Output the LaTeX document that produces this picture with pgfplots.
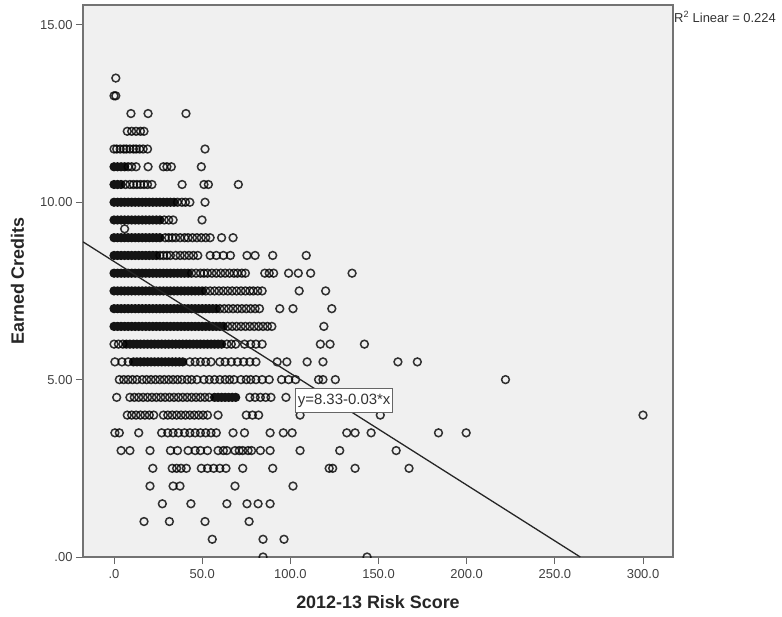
\documentclass[border=0pt]{standalone}
\usepackage{pgfplots}
\pgfplotsset{compat=1.18}
\usepackage{fontspec}
\setmainfont{Liberation Sans}
\definecolor{bg}{HTML}{F0F0F0}
\begin{document}
\begin{tikzpicture}
\path[use as bounding box] (-83bp,-60bp) rectangle (699bp,557bp);
\begin{axis}[
  name=ax, at={(0,0)}, anchor=south west,
  scale only axis, width=590bp, height=552bp,
  xmin=-17.6, xmax=317, ymin=0, ymax=15.56,
  clip marker paths=true,
  axis background/.style={fill=bg},
  axis line style={draw=black!55, line width=1.3bp},
  xtick={0,50,100,150,200,250,300},
  xticklabels={.0,50.0,100.0,150.0,200.0,250.0,300.0},
  ytick={0,5,10,15}, yticklabels={.00,5.00,10.00,15.00},
  tick align=outside, tick pos=left, major tick length=7bp,
  tick style={draw=black!60, line width=1bp},
  /pgf/number format/assume math mode=true,
  ticklabel style={font=\fontsize{13}{15}\selectfont, text=black!75},
  xticklabel style={yshift=-2bp},
  xlabel={2012-13 Risk Score}, ylabel={Earned Credits},
  label style={font=\fontsize{18}{21}\selectfont\bfseries, text=black!85},
  xlabel style={at={(axis description cs:0.5,-0.0815)}, anchor=center},
  ylabel style={at={(axis description cs:-0.111,0.5)}, anchor=center},
]
% dense (heavily overlapping) runs of points
\addplot[only marks, mark=*, mark size=4bp, mark options={draw=black!92, fill=black!92, line width=1.2bp}] coordinates {
(0,11)(2,11)(4,11)(6,11)
(0,10.5)(2,10.5)(4,10.5)
(0,10)(2,10)(4,10)(6,10)(8,10)(10,10)(12,10)(14,10)(16,10)(18,10)(20,10)(22,10)(24,10)(26,10)(28,10)(30,10)(32,10)(34,10)
(0,9.5)(2,9.5)(4,9.5)(6,9.5)(8,9.5)(10,9.5)(12,9.5)(14,9.5)(16,9.5)(18,9.5)(20,9.5)(22,9.5)(24,9.5)(26,9.5)
(0,9)(2,9)(4,9)(6,9)(8,9)(10,9)(12,9)(14,9)(16,9)(18,9)(20,9)(22,9)(24,9)(26,9)
(0,8.5)(2,8.5)(4,8.5)(6,8.5)(8,8.5)(10,8.5)(12,8.5)(14,8.5)(16,8.5)(18,8.5)(20,8.5)(22,8.5)(24,8.5)
(0,8)(2,8)(4,8)(6,8)(8,8)(10,8)(12,8)(14,8)(16,8)(18,8)(20,8)(22,8)(24,8)(26,8)(28,8)(30,8)(32,8)(34,8)(36,8)(38,8)(40,8)(42,8)
(0,7.5)(2,7.5)(4,7.5)(6,7.5)(8,7.5)(10,7.5)(12,7.5)(14,7.5)(16,7.5)(18,7.5)(20,7.5)(22,7.5)(24,7.5)(26,7.5)(28,7.5)(30,7.5)(32,7.5)(34,7.5)(36,7.5)(38,7.5)(40,7.5)(42,7.5)(44,7.5)(46,7.5)(48,7.5)(50,7.5)
(0,7)(2,7)(4,7)(6,7)(8,7)(10,7)(12,7)(14,7)(16,7)(18,7)(20,7)(22,7)(24,7)(26,7)(28,7)(30,7)(32,7)(34,7)(36,7)(38,7)(40,7)(42,7)(44,7)(46,7)(48,7)(50,7)(52,7)(54,7)(56,7)(58,7)
(0,6.5)(2,6.5)(4,6.5)(6,6.5)(8,6.5)(10,6.5)(12,6.5)(14,6.5)(16,6.5)(18,6.5)(20,6.5)(22,6.5)(24,6.5)(26,6.5)(28,6.5)(30,6.5)(32,6.5)(34,6.5)(36,6.5)(38,6.5)(40,6.5)(42,6.5)(44,6.5)(46,6.5)(48,6.5)(50,6.5)(52,6.5)(54,6.5)(56,6.5)(58,6.5)(60,6.5)(62,6.5)
(7,6)(9,6)(11,6)(13,6)(15,6)(17,6)(19,6)(21,6)(23,6)(25,6)(27,6)(29,6)(31,6)(33,6)(35,6)(37,6)(39,6)(41,6)(43,6)(45,6)(47,6)(49,6)(51,6)(53,6)(55,6)(57,6)(59,6)(61,6)
(11,5.5)(13,5.5)(15,5.5)(17,5.5)(19,5.5)(21,5.5)(23,5.5)(25,5.5)(27,5.5)(29,5.5)(31,5.5)(33,5.5)(35,5.5)(37,5.5)(39,5.5)
(57,4.5)(59,4.5)(61,4.5)(63,4.5)(65,4.5)(67,4.5)(69,4.5)
};
% individual points
\addplot[only marks, mark=o, mark size=3.9bp, mark options={draw=black, draw opacity=0.8, line width=1.5bp}] coordinates {
(1,13.5)
(0,13)(1,13)
(9.6,12.5)(19.3,12.5)(40.8,12.5)
(7.5,12)(10,12)(12.5,12)(15,12)(17,12)
(0,11.5)(1.5,11.5)(3.5,11.5)(5.5,11.5)(7,11.5)(9,11.5)(11,11.5)(12.5,11.5)(14.5,11.5)(16.5,11.5)(19,11.5)(51.6,11.5)
(8,11)(10,11)(12.5,11)(19.3,11)(28,11)(30,11)(32.5,11)(49.5,11)
(6.5,10.5)(9,10.5)(11,10.5)(13,10.5)(15,10.5)(17,10.5)(19,10.5)(21.5,10.5)(38.6,10.5)(51,10.5)(53.5,10.5)(70.5,10.5)
(36,10)(38.5,10)(40.5,10)(43,10)(51.6,10)
(28.5,9.5)(31,9.5)(33.5,9.5)(49.9,9.5)
(6,9.25)
(29,9)(31,9)(33,9)(35,9)(37.5,9)(40,9)(42,9)(44.5,9)(47,9)(49.5,9)(52,9)(54.5,9)(61,9)(67.5,9)
(26,8.5)(28,8.5)(30,8.5)(32,8.5)(35,8.5)(37.5,8.5)(40,8.5)(42.5,8.5)(45,8.5)(47.5,8.5)(54.5,8.5)(58,8.5)(62,8.5)(66,8.5)(75.4,8.5)(80,8.5)(90,8.5)(109,8.5)
(44,8)(46.5,8)(49,8)(51,8)(53,8)(55.5,8)(58,8)(60.5,8)(63,8)(65.5,8)(68,8)(70,8)(72.5,8)(74.5,8)(85.5,8)(88,8)(90.5,8)(99,8)(104.5,8)(111.5,8)(135,8)
(52,7.5)(54.5,7.5)(57,7.5)(59.5,7.5)(62,7.5)(64.5,7.5)(67,7.5)(69.5,7.5)(72,7.5)(74.5,7.5)(77,7.5)(79,7.5)(81.5,7.5)(84,7.5)(105,7.5)(120,7.5)
(60,7)(62.5,7)(65,7)(67.5,7)(70,7)(72.5,7)(75,7)(77.5,7)(80,7)(82.5,7)(94,7)(101.5,7)(123.5,7)
(64.5,6.5)(67,6.5)(69.5,6.5)(72,6.5)(74.5,6.5)(77,6.5)(79.5,6.5)(82,6.5)(84.5,6.5)(87,6.5)(89.5,6.5)(119,6.5)
(0,6)(2.5,6)(5,6)(64,6)(66.5,6)(69,6)(74,6)(77.5,6)(80.5,6)(84,6)(117,6)(122.5,6)(142,6)
(0.5,5.5)(4.5,5.5)(8,5.5)(43,5.5)(46,5.5)(49,5.5)(52,5.5)(55,5.5)(60,5.5)(63,5.5)(66.5,5.5)(70,5.5)(73.5,5.5)(77,5.5)(80.5,5.5)(92.5,5.5)(98,5.5)(109.5,5.5)(118.5,5.5)(161,5.5)(172,5.5)
(3,5)(5.5,5)(8,5)(10.5,5)(13,5)(16,5)(18.5,5)(21,5)(23.5,5)(26,5)(28.5,5)(31,5)(33.5,5)(36,5)(38.5,5)(41.5,5)(44,5)(47,5)(51,5)(54,5)(57,5)(60,5)(63,5)(65.5,5)(68,5)(72,5)(75,5)(77.5,5)(80.5,5)(84,5)(88,5)(95,5)(99,5)(103,5)(116,5)(118.5,5)(125.5,5)(222,5)
(1.5,4.5)(9,4.5)(11.5,4.5)(14,4.5)(16.5,4.5)(19,4.5)(21.5,4.5)(24,4.5)(26.5,4.5)(29,4.5)(31.5,4.5)(34,4.5)(36.5,4.5)(39,4.5)(41.5,4.5)(44,4.5)(46.5,4.5)(49,4.5)(51.5,4.5)(54,4.5)(77,4.5)(80,4.5)(83,4.5)(86,4.5)(89,4.5)(97.5,4.5)
(7.5,4)(10,4)(12.5,4)(15,4)(17.5,4)(20,4)(22.5,4)(28,4)(30.5,4)(33,4)(35.5,4)(38,4)(40.5,4)(43,4)(45.5,4)(48,4)(50.5,4)(53,4)(59,4)(75,4)(78.5,4)(82,4)(105.5,4)(151,4)(300,4)
(0.5,3.5)(3,3.5)(14,3.5)(27,3.5)(30.5,3.5)(33.5,3.5)(36.5,3.5)(40,3.5)(43,3.5)(46,3.5)(49,3.5)(52,3.5)(55,3.5)(58,3.5)(67.5,3.5)(74,3.5)(88.5,3.5)(96,3.5)(101,3.5)(132,3.5)(136.7,3.5)(145.8,3.5)(184,3.5)(199.7,3.5)
(4,3)(9,3)(20.4,3)(32,3)(36,3)(42,3)(46,3)(49,3)(53,3)(59,3)(62,3)(64,3)(68.6,3)(71,3)(73,3)(76,3)(78,3)(83,3)(88.5,3)(105.5,3)(128,3)(160,3)
(22,2.5)(33,2.5)(35.5,2.5)(38,2.5)(41,2.5)(49.5,2.5)(53,2.5)(56.5,2.5)(60,2.5)(63.5,2.5)(73,2.5)(90,2.5)(122,2.5)(124,2.5)(136.7,2.5)(167.3,2.5)
(20.4,2)(33.5,2)(37.4,2)(68.6,2)(101.5,2)
(27.4,1.5)(43.6,1.5)(64,1.5)(75.4,1.5)(81.7,1.5)(88.5,1.5)
(17,1)(31.4,1)(51.6,1)(76.6,1)
(55.7,0.5)(84.5,0.5)(96.4,0.5)
(84.5,0)(143.5,0)
};
% fit line y = 8.33 - 0.03*x
\addplot[draw=black!85, line width=1.3bp] coordinates {(-17.6,8.884) (264.4,0)};
\node[draw=black!60, fill=white, line width=1bp, inner xsep=2.5bp, inner ysep=5bp,
      text=black!80, font=\fontsize{15}{17}\selectfont] at (axis cs:130.5,4.41) {y=8.33-0.03*x};
\end{axis}
\node[anchor=west, inner sep=0pt, text=black!80, font=\fontsize{13}{15}\selectfont]
  at ([xshift=1bp,yshift=-12bp]ax.north east) {R\textsuperscript{2} Linear = 0.224};
\end{tikzpicture}
\end{document}
